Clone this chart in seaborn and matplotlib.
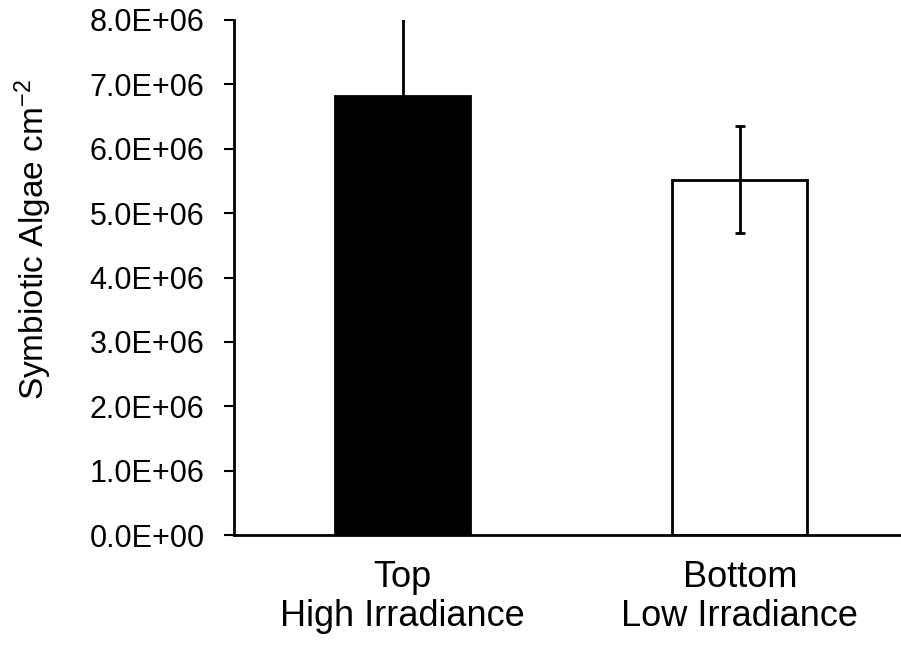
import matplotlib
matplotlib.use("Agg")
import matplotlib.pyplot as plt
import seaborn as sns
import pandas as pd

categories = ["Top\nHigh Irradiance", "Bottom\nLow Irradiance"]
means = [6.82e6, 5.52e6]
errors = [1.25e6, 0.83e6]
bar_colors = ["#000000", "#ffffff"]
ytick_values = [0, 1e6, 2e6, 3e6, 4e6, 5e6, 6e6, 7e6, 8e6]
ytick_labels = ["0.0E+00", "1.0E+06", "2.0E+06", "3.0E+06", "4.0E+06",
                "5.0E+06", "6.0E+06", "7.0E+06", "8.0E+06"]
ylabel = "Symbiotic Algae cm$^{\\mathregular{-2}}$"

sns.set_theme(style="white")
plt.rcParams["font.family"] = ["Liberation Sans", "DejaVu Sans"]
plt.rcParams["mathtext.fontset"] = "custom"
plt.rcParams["mathtext.rm"] = "Liberation Sans"
plt.rcParams["mathtext.it"] = "Liberation Sans:italic"
plt.rcParams["text.color"] = "black"
plt.rcParams["axes.labelcolor"] = "black"
plt.rcParams["xtick.color"] = "black"
plt.rcParams["ytick.color"] = "black"

df = pd.DataFrame({"cat": categories, "val": means})

fig = plt.figure(figsize=(9.01, 6.45), dpi=100)
ax = fig.add_axes([0.26, 0.1705, 0.74, 0.7985])

sns.barplot(data=df, x="cat", y="val", hue="cat", palette=bar_colors,
            order=categories, hue_order=categories, legend=False,
            width=0.4, edgecolor="black", linewidth=2.0, ax=ax, errorbar=None)

ax.errorbar(x=list(range(len(categories))), y=means, yerr=errors, fmt="none",
            ecolor="black", elinewidth=2.0, capsize=3.5, capthick=2.0, zorder=5)

ax.set_ylim(0, 8e6)
ax.set_xlim(-0.5, 1.478)
ax.set_yticks(ytick_values)
ax.set_yticklabels(ytick_labels)
ax.tick_params(axis="y", which="major", direction="out", length=7.5, width=1.5,
               pad=14, labelsize=22, color="black", labelcolor="black", left=True)
ax.tick_params(axis="x", length=0, pad=18, labelsize=26, labelcolor="black")
for lbl in ax.get_xticklabels():
    lbl.set_linespacing(1.15)

ax.set_xlabel("")
ax.set_ylabel(ylabel, fontsize=24, color="black")
ax.yaxis.set_label_coords(-0.27, 0.573)

sns.despine(ax=ax, top=True, right=True)
for s in ["left", "bottom"]:
    ax.spines[s].set_color("black")
    ax.spines[s].set_linewidth(2.0)

fig.savefig("out.png", dpi=100)
